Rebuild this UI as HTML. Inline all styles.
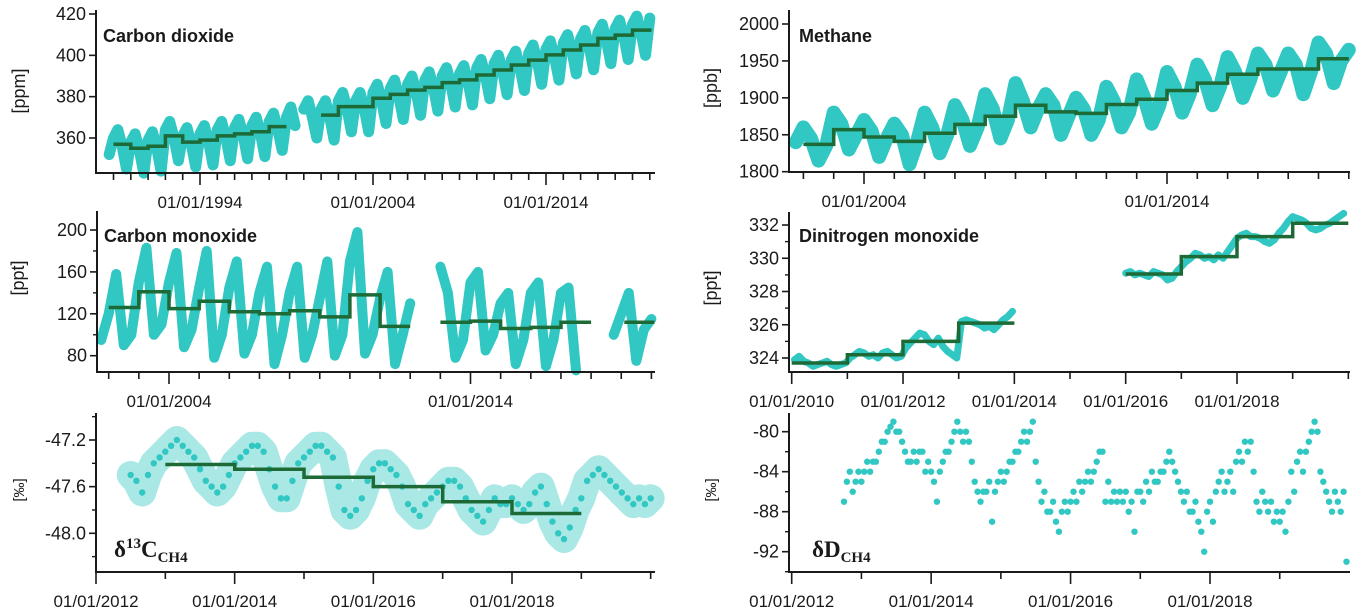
<!DOCTYPE html>
<html><head><meta charset="utf-8"><title>Greenhouse gas time series</title>
<style>
html,body{margin:0;padding:0;background:#fff;}
svg{display:block;}
text{font-family:"Liberation Sans",Arial,sans-serif;fill:#1a1a1a;}
.serif{font-family:"Liberation Serif","Times New Roman",serif;font-weight:bold;}
</style></head>
<body>
<svg id="chart" width="1362" height="616" viewBox="0 0 1362 616" xmlns="http://www.w3.org/2000/svg">
<text x="103" y="42" font-size="18" font-weight="bold">Carbon dioxide</text>
<text x="104" y="242" font-size="18" font-weight="bold">Carbon monoxide</text>
<text x="799" y="42" font-size="18" font-weight="bold">Methane</text>
<text x="799" y="242" font-size="18" font-weight="bold">Dinitrogen monoxide</text>
<text class="serif" x="114" y="557" font-size="23">δ<tspan font-size="15" dy="-9">13</tspan><tspan dy="9">C</tspan><tspan font-size="15" dy="5">CH4</tspan></text>
<text class="serif" x="812" y="557" font-size="23">δD<tspan font-size="15" dy="5">CH4</tspan></text>
<text transform="translate(25,91) rotate(-90)" font-size="18" text-anchor="middle">[ppm]</text>
<text transform="translate(24,278) rotate(-90)" font-size="18" text-anchor="middle">[ppt]</text>
<text transform="translate(24,490) rotate(-90)" font-size="15" text-anchor="middle">[‰]</text>
<text transform="translate(717,88) rotate(-90)" font-size="18" text-anchor="middle">[ppb]</text>
<text transform="translate(717,288) rotate(-90)" font-size="18" text-anchor="middle">[ppt]</text>
<text transform="translate(716,490) rotate(-90)" font-size="15" text-anchor="middle">[‰]</text>
</svg>
<script>
// ---------- DATA ----------
const co2Seg1Start = 1988.75;
const co2Seg1 = [352,
 360,364,356,345, 358,362,354,343, 359,363,355,344, 364,368,360,349, 361,365,357,346,
 362,366,358,347, 364,368,360,349, 365,369,361,350, 366,370,362,351, 368,372,364,354,
 370,375,366];
const co2Seg2Start = 2000.0;
const co2Seg2 = [374,378,370,360, 374,378,370,359, 378,382,374,363, 378,382,374,363,
 382,386,378,367, 384,388,380,369, 386,390,382,371, 388,392,384,373, 390,394,386,375,
 391,395,387,376, 394,398,390,379, 396,400,392,381, 398,402,394,383, 401,405,397,386,
 403,407,399,388, 406,410,402,391, 408,412,404,393, 411,415,407,396, 413,417,409,398,
 415,419,411,400, 418];
const co2StepEdges1 = [1989,1990,1991,1992,1993,1994,1995,1996,1997,1998,1999];
const co2StepVals1 = [357,355,356,361,358,359,361,362,363,365.5];
const co2StepEdges2 = [2001,2002,2004,2005,2006,2007,2008,2009,2010,2011,2012,2013,2014,2015,2016,2017,2018,2019,2020.1];
const co2StepVals2 = [371.1,375.2,379.2,381.1,383.2,384.5,386.8,388.1,390.5,392.9,395.3,397.7,400.2,402.6,405.0,408.2,409.8,412.2];

const coSeg1Start = 2001.75;
const coSeg1 = [95, 120,158,90,100, 150,183,100,110, 150,178,88,105, 145,180,78,100, 145,170,82,100,
 140,165,72,100, 140,165,78,100, 135,170,80,100, 170,198,82,100, 135,160,72,100, 130];
const coSeg2Start = 2013.0;
const coSeg2 = [165,140,78,95, 150,160,85,100, 130,140,72,95, 140,150,70,95, 140,145,66];
const coSeg3Start = 2018.75;
const coSeg3 = [100, 120,140,75,105, 115];
const coStepEdges1 = [2002,2003,2004,2005,2006,2007,2008,2009,2010,2011,2012];
const coStepVals1 = [126,141,125,132,122,120,123,117,138,108];
const coStepEdges2 = [2013,2014,2015,2016,2017,2018];
const coStepVals2 = [112,113,106,107,112];
const coStepEdges3 = [2019.1,2020.1];
const coStepVals3 = [112];

const d13cStart = 2012.5;
const d13cVals = [-47.5,-47.55,-47.65,-47.5,-47.4,-47.35,
 -47.3,-47.25,-47.2,-47.25,-47.3,-47.35,-47.45,-47.55,-47.6,-47.65,-47.6,-47.5,
 -47.4,-47.35,-47.3,-47.25,-47.25,-47.3,-47.45,-47.6,-47.7,-47.7,-47.55,-47.4,
 -47.35,-47.3,-47.25,-47.25,-47.3,-47.35,-47.6,-47.8,-47.85,-47.8,-47.7,-47.55,
 -47.45,-47.4,-47.4,-47.45,-47.5,-47.6,-47.75,-47.8,-47.85,-47.75,-47.7,-47.65,
 -47.6,-47.55,-47.55,-47.6,-47.7,-47.8,-47.85,-47.9,-47.8,-47.7,-47.75,-47.75,
 -47.7,-47.75,-47.8,-47.75,-47.65,-47.6,-47.75,-47.9,-48.0,-48.05,-47.95,-47.8,
 -47.7,-47.55,-47.5,-47.45,-47.5,-47.55,-47.6,-47.65,-47.7,-47.75,-47.7,-47.75,
 -47.7];
const d13cStepEdges = [2013,2014,2015,2016,2017,2018,2019];
const d13cStepVals = [-47.41,-47.45,-47.52,-47.60,-47.73,-47.83];

const ch4Start = 2001.75;
const ch4Vals = [1840,
 1860,1845,1815,1835, 1880,1865,1830,1850, 1870,1855,1820,1845, 1865,1850,1810,1840,
 1880,1860,1825,1850, 1890,1870,1835,1860, 1905,1885,1845,1870, 1920,1895,1860,1885,
 1905,1890,1850,1875, 1900,1885,1850,1870, 1915,1895,1860,1880, 1925,1900,1865,1890,
 1935,1915,1880,1905, 1945,1925,1890,1915, 1955,1935,1900,1925, 1960,1945,1910,1935,
 1960,1945,1905,1935, 1975,1960,1920,1950, 1965];
const ch4StepEdges = [2002,2003,2004,2005,2006,2007,2008,2009,2010,2011,2012,2013,2014,2015,2016,2017,2018,2019,2020];
const ch4StepVals = [1837,1857,1847,1841,1852,1864,1875,1890,1881,1879,1891,1898,1910,1920,1932,1939,1939,1953];

const n2oSeg1Start = 2010.05;
const n2oSeg1 = [323.9,324.1,323.8,323.7,323.5,323.6,323.7,323.8,323.6,323.5,323.6,323.7,
 324.0,324.2,324.4,324.3,324.1,324.2,324.0,324.3,324.4,324.2,324.0,324.1,
 324.6,324.9,325.2,325.5,325.4,325.0,324.8,325.2,324.7,324.4,324.2,324.0,
 326.2,326.3,326.2,326.1,326.0,325.8,325.9,325.7,326.0,326.3,326.5,326.8];
const n2oSeg2Start = 2016.0;
const n2oSeg2 = [329.1,329.2,329.0,329.1,329.0,328.9,329.2,329.1,329.0,328.7,328.8,329.2,
 329.5,329.8,330.0,330.3,330.2,330.0,330.1,329.9,330.2,330.0,330.4,330.8,
 331.2,331.4,331.5,331.3,331.3,331.2,331.0,330.9,331.1,331.5,331.8,332.2,
 332.5,332.4,332.3,332.1,331.8,331.7,331.8,332.0,332.1,332.3,332.5,332.7];
const n2oStepEdges1 = [2010,2011,2012,2013,2014];
const n2oStepVals1 = [323.7,324.2,325.0,326.1];
const n2oStepEdges2 = [2016,2017,2018,2019,2020];
const n2oStepVals2 = [329.05,330.1,331.3,332.1];

const ddStart = 2012.75;
const ddVals = [-87,-85,-84,-86,-85,-84,
 -85,-84,-83,-84,-83,-83,-82,-81,-81,-80,-79.5,-79,-80,-80,-81,-82,-83,-83,-82,-83,-82,-82,-84,-83,
 -84,-85,-87,-84,-83,-82,-82,-81,-80,-79,-80,-81,-80,-81,-83,-85,-86,-87,-86,-86,-85,-89,-86,-85,
 -84,-85,-84,-83,-83,-82,-82,-81,-80,-81,-80,-79,-83,-85,-87,-86,-88,-88,-87,-89,-90,-88,-87,-88,
 -87,-86,-87,-85,-86,-85,-84,-85,-84,-83,-82,-82,-87,-85,-87,-86,-87,-86,-87,-86,-88,-87,-90,-86,
 -86,-87,-85,-86,-84,-85,-85,-84,-84,-83,-82,-83,-84,-85,-86,-87,-86,-88,-88,-87,-89,-90,-92,-88,
 -87,-89,-86,-85,-84,-86,-85,-84,-86,-83,-82,-83,-81,-82,-81,-84,-87,-88,-86,-87,-88,-87,-89,-88,
 -89,-88,-90,-87,-84,-86,-83,-82,-84,-82,-81,-80,-79,-80,-84,-85,-86,-87,-88,-86,-87,-88,-86,-93];

const co2YTicks = [360,380,400,420];
const co2XLabels = [1994,2004,2014];
const coYTicks = [80,120,160,200];
const coXLabels = [2004,2014];
const d13cYTicks = [-47.2,-47.6,-48.0];
const d13cXLabels = [2012,2014,2016,2018];
const ch4YTicks = [1800,1850,1900,1950,2000];
const ch4XLabels = [2004,2014];
const n2oYTicks = [324,326,328,330,332];
const n2oXLabels = [2010,2012,2014,2016,2018];
const ddYTicks = [-80,-84,-88,-92];
const ddXLabels = [2012,2014,2016,2018];

// ---------- DRAWING ----------
const NS = 'http://www.w3.org/2000/svg';
const svg = document.getElementById('chart');
const TEAL = '#31c7c2', GREEN = '#1d6a36', INK = '#1a1a1a';
function mk(tag, attrs, parent) {
  const e = document.createElementNS(NS, tag);
  for (const k in attrs) e.setAttribute(k, attrs[k]);
  (parent || svg).appendChild(e);
  return e;
}
function lin(d0, d1, r0, r1) { return v => r0 + (v - d0) * (r1 - r0) / (d1 - d0); }
function fmt(v, dec) { return dec ? v.toFixed(dec) : String(v); }

function axes(p, yTicks, yDec, yMinor, xYears, xLabels, name) {
  const g = mk('g', {});
  
  
  const ya = mk('line', {x1:p.x0, x2:p.x0, y1:p.top, y2:p.bot, stroke:INK, 'stroke-width':2}, g);
  
  
  const xa = mk('line', {x1:p.x0-1, x2:p.x1, y1:p.bot, y2:p.bot, stroke:INK, 'stroke-width':2}, g);
  
  
  yTicks.forEach(v => {
    const y = p.y(v);
    mk('line', {x1:p.x0-7, x2:p.x0, y1:y, y2:y, stroke:INK, 'stroke-width':1.6}, g);
    const t = mk('text', {x:p.x0-10, y:y+6, 'font-size':p.fs, 'text-anchor':'end'}, g);
    t.textContent = fmt(v, yDec);
    
    
  });
  yMinor.forEach(v => {
    const y = p.y(v);
    mk('line', {x1:p.x0-4, x2:p.x0, y1:y, y2:y, stroke:INK, 'stroke-width':1.4}, g);
  });
  xYears.forEach(yr => {
    const x = p.x(yr);
    const major = xLabels.indexOf(yr) >= 0;
    mk('line', {x1:x, x2:x, y1:p.bot, y2:p.bot + (major ? 12 : 7), stroke:INK, 'stroke-width':1.6}, g);
  });
  xLabels.forEach(yr => {
    const t = mk('text', {x:p.x(yr), y:p.bot + 35, 'font-size':17, 'text-anchor':'middle'}, g);
    t.textContent = '01/01/' + yr;
    
    
  });
}
function series(p, start, dt, vals, name, width, r, dotsOnly, opacity) {
  const g = mk('g', {});
  
  
  const pts = vals.map((v, i) => [p.x(start + i * dt), p.y(v)]);
  if (!dotsOnly) {
    const pl = mk('polyline', {points: pts.map(q => q[0].toFixed(1) + ',' + q[1].toFixed(1)).join(' '),
      fill:'none', stroke:TEAL, 'stroke-width':width, 'stroke-linejoin':'round', 'stroke-linecap':'round', opacity:opacity || 1}, g);
    
    
  }
  pts.forEach(q => {
    const c = mk('circle', {cx:q[0].toFixed(1), cy:q[1].toFixed(1), r:r, fill:TEAL}, g);
    
    
  });
}
function steps(p, edges, vals, name) {
  let d = '';
  vals.forEach((v, i) => {
    const x0 = p.x(edges[i]), x1 = p.x(edges[i+1]), y = p.y(v);
    d += (i === 0 ? 'M' : 'L') + x0.toFixed(1) + ',' + y.toFixed(1) + 'L' + x1.toFixed(1) + ',' + y.toFixed(1);
  });
  const s = mk('path', {d:d, fill:'none', stroke:GREEN, 'stroke-width':3.5}, svg);
  
  
}
function range(a, b) { const r = []; for (let i = a; i <= b; i++) r.push(i); return r; }

const pCO2 = {x0:96, x1:655, top:10, bot:173, fs:18, x:lin(1994,2004,200,373), y:lin(360,420,138,14)};
const pCO  = {x0:97, x1:655, top:211, bot:372, fs:18, x:lin(2004,2014,169,470.5), y:lin(200,80,230,355.7)};
const pD13 = {x0:96, x1:655, top:413, bot:572, fs:18, x:lin(2012,2018,96,512), y:lin(-47.2,-48.0,440,533.3)};
const pCH4 = {x0:789, x1:1350, top:10, bot:172, fs:18, x:lin(2004,2014,864,1167), y:lin(1800,2000,171.7,24)};
const pN2O = {x0:789, x1:1350, top:212, bot:372, fs:18, x:lin(2010,2018,791.7,1237), y:lin(324,332,358,225)};
const pDD  = {x0:789, x1:1350, top:413, bot:572, fs:18, x:lin(2012,2018,791.7,1210), y:lin(-80,-92,431.7,551.7)};

series(pCO2, co2Seg1Start, 0.25, co2Seg1, 'co2-series-early', 11, 2.5);
series(pCO2, co2Seg2Start, 0.25, co2Seg2, 'co2-series-late', 11, 2.5);
steps(pCO2, co2StepEdges1, co2StepVals1, 'co2-annual-mean-early');
steps(pCO2, co2StepEdges2, co2StepVals2, 'co2-annual-mean-late');
axes(pCO2, co2YTicks, 0, [], range(1989, 2020), co2XLabels, 'co2');

series(pCO, coSeg1Start, 0.25, coSeg1, 'co-series-1', 10, 2.5);
series(pCO, coSeg2Start, 0.25, coSeg2, 'co-series-2', 10, 2.5);
series(pCO, coSeg3Start, 0.25, coSeg3, 'co-series-3', 10, 2.5);
steps(pCO, coStepEdges1, coStepVals1, 'co-annual-mean-1');
steps(pCO, coStepEdges2, coStepVals2, 'co-annual-mean-2');
steps(pCO, coStepEdges3, coStepVals3, 'co-annual-mean-3');
axes(pCO, coYTicks, 0, [100,140,180], range(2002, 2020), coXLabels, 'co');

series(pD13, d13cStart, 1/12, d13cVals, 'd13c-series', 28, 3.2, false, 0.42);
steps(pD13, d13cStepEdges, d13cStepVals, 'd13c-annual-mean');
axes(pD13, d13cYTicks, 1, [-47.0,-47.4,-47.8,-48.2], range(2012, 2020), d13cXLabels, 'd13c');

series(pCH4, ch4Start, 0.25, ch4Vals, 'ch4-series', 14, 3);
steps(pCH4, ch4StepEdges, ch4StepVals, 'ch4-annual-mean');
axes(pCH4, ch4YTicks, 0, [], range(2002, 2020), ch4XLabels, 'ch4');

series(pN2O, n2oSeg1Start, 1/12, n2oSeg1, 'n2o-series-early', 7, 2.5);
series(pN2O, n2oSeg2Start, 1/12, n2oSeg2, 'n2o-series-late', 7, 2.5);
steps(pN2O, n2oStepEdges1, n2oStepVals1, 'n2o-annual-mean-early');
steps(pN2O, n2oStepEdges2, n2oStepVals2, 'n2o-annual-mean-late');
axes(pN2O, n2oYTicks, 0, [325,327,329,331], range(2010, 2020), n2oXLabels, 'n2o');

series(pDD, ddStart, 1/24, ddVals, 'dd-series', 0, 3.2, true);
axes(pDD, ddYTicks, 0, [-82,-86,-90,-94], range(2012, 2019), ddXLabels, 'dd');
</script>
</body></html>
